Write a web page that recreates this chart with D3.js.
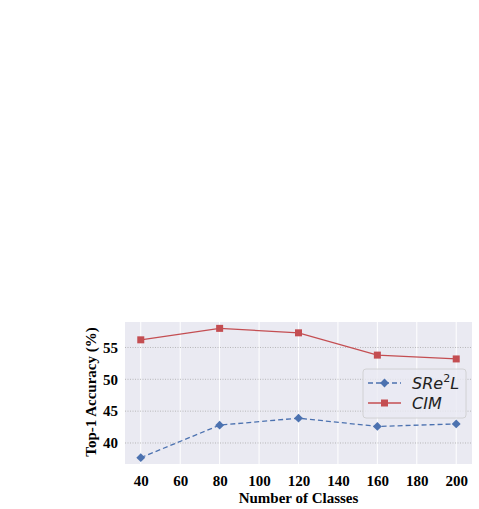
<!DOCTYPE html>
<html>
<head>
<meta charset="UTF-8">
<script src="https://d3js.org/d3.v7.min.js"></script>
<style>
  body { margin: 0; background: #fff; }
</style>
</head>
<body>
<div id="chart"></div>
<script>
// data
const classes = [40, 80, 120, 160, 200];
const sre2l = [37.7, 42.8, 43.9, 42.6, 43.0];
const cim = [56.2, 58.0, 57.3, 53.8, 53.2];
const xTicks = [40, 60, 80, 100, 120, 140, 160, 180, 200];
const yTicks = [40, 45, 50, 55];

const W = 479, H = 509;
const plot = {left: 125, right: 472, top: 322, bottom: 464};

const svg = d3.select("#chart").append("svg")
    .attr("width", W).attr("height", H);

const x = d3.scaleLinear().domain([32, 208]).range([plot.left, plot.right]);
const y = d3.scaleLinear().domain([36.7, 59.0]).range([plot.bottom, plot.top]);

// background
svg.append("rect")
    .attr("x", plot.left).attr("y", plot.top)
    .attr("width", plot.right - plot.left).attr("height", plot.bottom - plot.top)
    .attr("fill", "#EAEAF2");

// vertical white grid
svg.append("g")
    .selectAll("line").data(xTicks).join("line")
    .attr("x1", d => x(d)).attr("x2", d => x(d))
    .attr("y1", plot.top).attr("y2", plot.bottom)
    .attr("stroke", "#fff").attr("stroke-width", 1);

// horizontal dotted grid
svg.append("g")
    .selectAll("line").data(yTicks).join("line")
    .attr("x1", plot.left).attr("x2", plot.right)
    .attr("y1", d => y(d)).attr("y2", d => y(d))
    .attr("stroke", "#aaaaaa").attr("stroke-width", 0.8)
    .attr("stroke-dasharray", "1,1.5");

// axes (labels only)
const xAxis = svg.append("g")
    .attr("transform", `translate(0,${plot.bottom})`)
    .call(d3.axisBottom(x).tickValues(xTicks).tickSize(0).tickPadding(11));
const yAxis = svg.append("g")
    .attr("transform", `translate(${plot.left},0)`)
    .call(d3.axisLeft(y).tickValues(yTicks).tickSize(0).tickPadding(7));
[xAxis, yAxis].forEach(g => {
    g.select(".domain").remove();
    g.selectAll("text")
        .attr("font-family", "Liberation Serif, Times New Roman, serif")
        .attr("font-weight", "bold")
        .attr("font-size", 15)
        .attr("fill", "#000");
});

// axis titles
svg.append("text")
    .attr("x", (plot.left + plot.right) / 2).attr("y", 503)
    .attr("text-anchor", "middle")
    .attr("font-family", "Liberation Serif, Times New Roman, serif")
    .attr("font-weight", "bold").attr("font-size", 15)
    .attr("fill", "#000")
    .text("Number of Classes");
svg.append("text")
    .attr("transform", `translate(96,${(plot.top + plot.bottom) / 2 - 1}) rotate(-90)`)
    .attr("text-anchor", "middle")
    .attr("font-family", "Liberation Serif, Times New Roman, serif")
    .attr("font-weight", "bold").attr("font-size", 15)
    .attr("fill", "#000")
    .text("Top-1 Accuracy (%)");

const blue = "#4C72B0", red = "#C44E52";
const line = d3.line().x((d, i) => x(classes[i])).y(d => y(d));

// SRe2L
svg.append("path").datum(sre2l)
    .attr("d", line).attr("fill", "none")
    .attr("stroke", blue).attr("stroke-width", 1.3)
    .attr("stroke-dasharray", "5,3");
svg.append("g").selectAll("path").data(sre2l).join("path")
    .attr("d", d3.symbol(d3.symbolDiamond2, 50))
    .attr("transform", (d, i) => `translate(${x(classes[i])},${y(d)})`)
    .attr("fill", blue);

// CIM
svg.append("path").datum(cim)
    .attr("d", line).attr("fill", "none")
    .attr("stroke", red).attr("stroke-width", 1.3);
svg.append("g").selectAll("rect").data(cim).join("rect")
    .attr("x", (d, i) => x(classes[i]) - 3.5)
    .attr("y", d => y(d) - 3.5)
    .attr("width", 7).attr("height", 7)
    .attr("fill", red);

// legend
const lg = svg.append("g");
lg.append("rect")
    .attr("x", 363).attr("y", 369).attr("width", 103).attr("height", 49)
    .attr("rx", 3)
    .attr("fill", "#EAEAF2").attr("fill-opacity", 0.8)
    .attr("stroke", "#cccccc").attr("stroke-width", 0.8);
const items = [
    {label: "SRe", sup: "2", tail: "L", color: blue, dash: "5,3", marker: "diamond", yy: 383},
    {label: "CIM", sup: null, tail: "", color: red, dash: null, marker: "square", yy: 403}
];
items.forEach(it => {
    lg.append("line")
        .attr("x1", 368).attr("x2", 401).attr("y1", it.yy).attr("y2", it.yy)
        .attr("stroke", it.color).attr("stroke-width", 1.3)
        .attr("stroke-dasharray", it.dash);
    if (it.marker === "diamond") {
        lg.append("path")
            .attr("d", d3.symbol(d3.symbolDiamond2, 50))
            .attr("transform", `translate(384.5,${it.yy})`)
            .attr("fill", it.color);
    } else {
        lg.append("rect")
            .attr("x", 381).attr("y", it.yy - 3.5).attr("width", 7).attr("height", 7)
            .attr("fill", it.color);
    }
    const t = lg.append("text")
        .attr("x", 412).attr("y", it.yy + 5.5)
        .attr("font-family", "DejaVu Sans, sans-serif")
        .attr("font-style", "italic").attr("font-size", 16)
        .attr("fill", "#222");
    t.append("tspan").text(it.label);
    if (it.sup) {
        t.append("tspan").attr("dy", -7).attr("font-size", 11).attr("font-style", "normal").text(it.sup);
        t.append("tspan").attr("dy", 7).text(it.tail);
    }
});
</script>
</body>
</html>
